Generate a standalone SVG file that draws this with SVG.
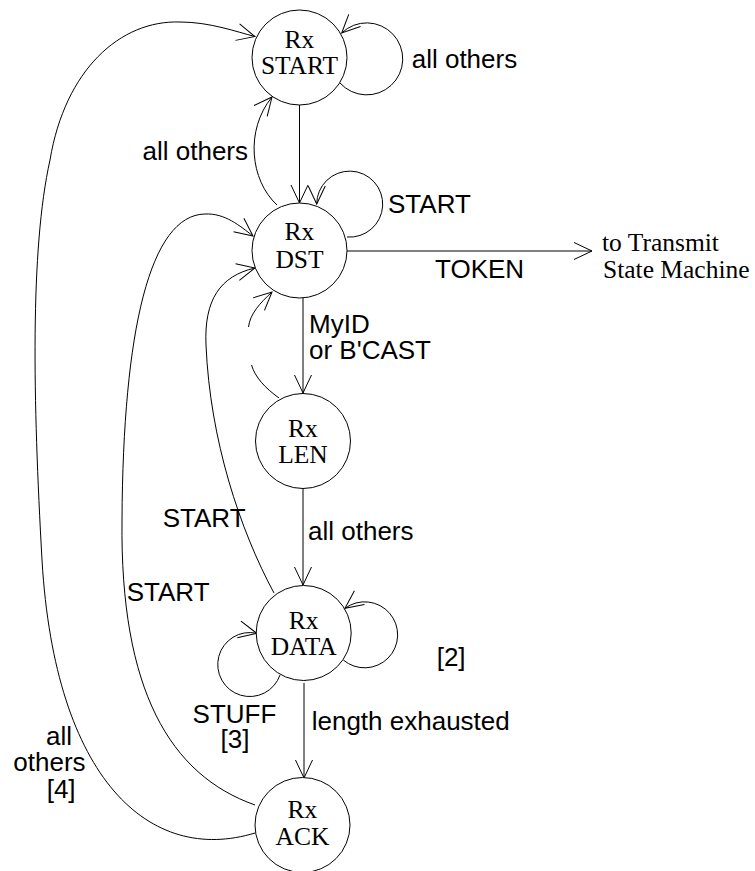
<svg xmlns="http://www.w3.org/2000/svg" width="755" height="871" viewBox="0 0 755 871">
<style>
.node{fill:#fff;stroke:#000;stroke-width:1}
.nt{font-family:"Liberation Serif","Times New Roman",serif;font-size:25.5px;text-anchor:middle;fill:#000}
.st{font-family:"Liberation Serif","Times New Roman",serif;font-size:25.5px;fill:#000}
.lb{font-family:"Liberation Sans",Arial,sans-serif;font-size:26px;fill:#000}
.c{fill:none;stroke:#000;stroke-width:1}
.ca{fill:none;stroke:#000;stroke-width:1;marker-end:url(#ah)}
</style>
<defs>
<marker id="ah" markerUnits="userSpaceOnUse" markerWidth="40" markerHeight="40" viewBox="-20 -20 40 40" refX="0" refY="0" orient="auto" overflow="visible">
<path d="M-18,-8.5 L0,0 L-18,8.5" fill="none" stroke="#000" stroke-width="1"/>
</marker>
</defs>
<rect width="755" height="871" fill="#fff"/>
<g id="connectors">
<path class="ca" d="M340,83 A36,36 0 1 0 341.7,33"/>
<path class="ca" d="M299.5,105 L299.5,203"/>
<path class="ca" d="M277,205 C250,180 245,130 272,97"/>
<path class="ca" d="M347,237 A33,33 0 1 0 316.7,204"/>
<path class="ca" d="M347,251 L592,251"/>
<path class="ca" d="M303,298 L303,393"/>
<path class="c" d="M279,398 C265,388 255,377 251.5,365"/>
<path class="ca" d="M248.5,327 C250,314 260,303 272,292"/>
<path class="ca" d="M274,593 C240,530 210,440 206,345 C204,300 220,276 255,268"/>
<path class="ca" d="M255,805 C170,775 120,690 122,520 C123,330 150,215 205,214 C225,213 240,226 253,236"/>
<path class="ca" d="M255,833 C150,865 55,780 42,560 C33,400 30,250 50,160 C65,70 120,20 180,22 C210,22 237,32 255,36.5"/>
<path class="ca" d="M303,489 L303,585"/>
<path class="ca" d="M304,683 L304,778"/>
<path class="ca" d="M343.3,660 A33,33 0 1 0 345,608.3"/>
<path class="ca" d="M280,675 A32,32 0 1 1 256.7,633.3"/>
</g>
<g id="rx-start">
<circle class="node" cx="299.5" cy="57.5" r="47.5"/>
<text class="nt" x="299.5" y="48.3">Rx</text>
<text class="nt" x="299.5" y="74">START</text>
</g>
<g id="rx-dst">
<circle class="node" cx="299.5" cy="250.5" r="47.5"/>
<text class="nt" x="299.5" y="240">Rx</text>
<text class="nt" x="299.5" y="268.3">DST</text>
</g>
<g id="rx-len">
<circle class="node" cx="303" cy="441" r="47.5"/>
<text class="nt" x="303" y="436.7">Rx</text>
<text class="nt" x="303" y="462.7">LEN</text>
</g>
<g id="rx-data">
<circle class="node" cx="303.7" cy="633" r="47.5"/>
<text class="nt" x="303.7" y="629">Rx</text>
<text class="nt" x="303.7" y="655">DATA</text>
</g>
<g id="rx-ack">
<circle class="node" cx="302.5" cy="825" r="47.5"/>
<text class="nt" x="302.5" y="818.3">Rx</text>
<text class="nt" x="302.5" y="845">ACK</text>
</g>
<g id="transmit">
<text class="st" x="602" y="250.5">to Transmit</text>
<text class="st" x="603" y="278">State Machine</text>
</g>
<g id="labels">
<text class="lb" x="411.7" y="68">all others</text>
<text class="lb" x="248" y="160" text-anchor="end">all others</text>
<text class="lb" x="388" y="213">START</text>
<text class="lb" x="435" y="278">TOKEN</text>
<text class="lb" x="309" y="333">MyID</text>
<text class="lb" x="309" y="359">or B'CAST</text>
<text class="lb" x="308" y="540">all others</text>
<text class="lb" x="162.7" y="527">START</text>
<text class="lb" x="126.7" y="600.7">START</text>
<text class="lb" x="436.7" y="666">[2]</text>
<text class="lb" x="234.5" y="723" text-anchor="middle">STUFF</text>
<text class="lb" x="235" y="748" text-anchor="middle">[3]</text>
<text class="lb" x="311.7" y="730">length exhausted</text>
<text class="lb" x="46" y="745">all</text>
<text class="lb" x="13.3" y="770.7">others</text>
<text class="lb" x="46.7" y="798">[4]</text>
</g>
</svg>
